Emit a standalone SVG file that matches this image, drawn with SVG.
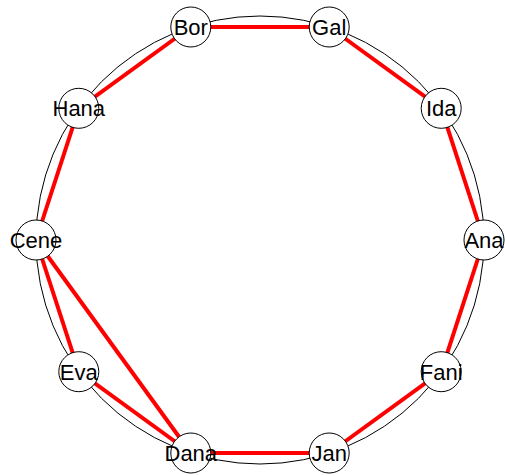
<svg xmlns="http://www.w3.org/2000/svg" width="505" height="476" viewBox="0 0 505 476">
<style>
.e{stroke:#ff0000;stroke-width:4;fill:none}
.n circle{fill:#fff;stroke:#000;stroke-width:1}
.n text{font-family:"Liberation Sans",Arial,sans-serif;font-size:22px;text-anchor:middle;fill:#000}
</style>
<rect width="505" height="476" fill="#fff"/>
<circle cx="260" cy="240" r="224" fill="none" stroke="#000" stroke-width="1"/>
<g id="edges">
<line class="e" x1="190.8" y1="27" x2="329.2" y2="27"/>
<line class="e" x1="329.2" y1="27" x2="441.2" y2="108.3"/>
<line class="e" x1="441.2" y1="108.3" x2="484" y2="240"/>
<line class="e" x1="484" y1="240" x2="441.2" y2="371.7"/>
<line class="e" x1="441.2" y1="371.7" x2="329.2" y2="453"/>
<line class="e" x1="329.2" y1="453" x2="190.8" y2="453"/>
<line class="e" x1="190.8" y1="453" x2="78.8" y2="371.7"/>
<line class="e" x1="78.8" y1="371.7" x2="36" y2="240"/>
<line class="e" x1="36" y1="240" x2="78.8" y2="108.3"/>
<line class="e" x1="78.8" y1="108.3" x2="190.8" y2="27"/>
<line class="e" x1="36" y1="240" x2="190.8" y2="453"/>
</g>
<g id="Bor" class="n"><circle cx="190.8" cy="27" r="20"/><text x="190.8" y="35">Bor</text></g>
<g id="Gal" class="n"><circle cx="329.2" cy="27" r="20"/><text x="329.2" y="35">Gal</text></g>
<g id="Hana" class="n"><circle cx="78.8" cy="108.3" r="20"/><text x="78.8" y="116.3">Hana</text></g>
<g id="Ida" class="n"><circle cx="441.2" cy="108.3" r="20"/><text x="441.2" y="116.3">Ida</text></g>
<g id="Cene" class="n"><circle cx="36" cy="240" r="20"/><text x="36" y="248">Cene</text></g>
<g id="Ana" class="n"><circle cx="484" cy="240" r="20"/><text x="484" y="248">Ana</text></g>
<g id="Eva" class="n"><circle cx="78.8" cy="371.7" r="20"/><text x="78.8" y="379.7">Eva</text></g>
<g id="Fani" class="n"><circle cx="441.2" cy="371.7" r="20"/><text x="441.2" y="379.7">Fani</text></g>
<g id="Dana" class="n"><circle cx="190.8" cy="453" r="20"/><text x="190.8" y="461">Dana</text></g>
<g id="Jan" class="n"><circle cx="329.2" cy="453" r="20"/><text x="329.2" y="461">Jan</text></g>
</svg>
